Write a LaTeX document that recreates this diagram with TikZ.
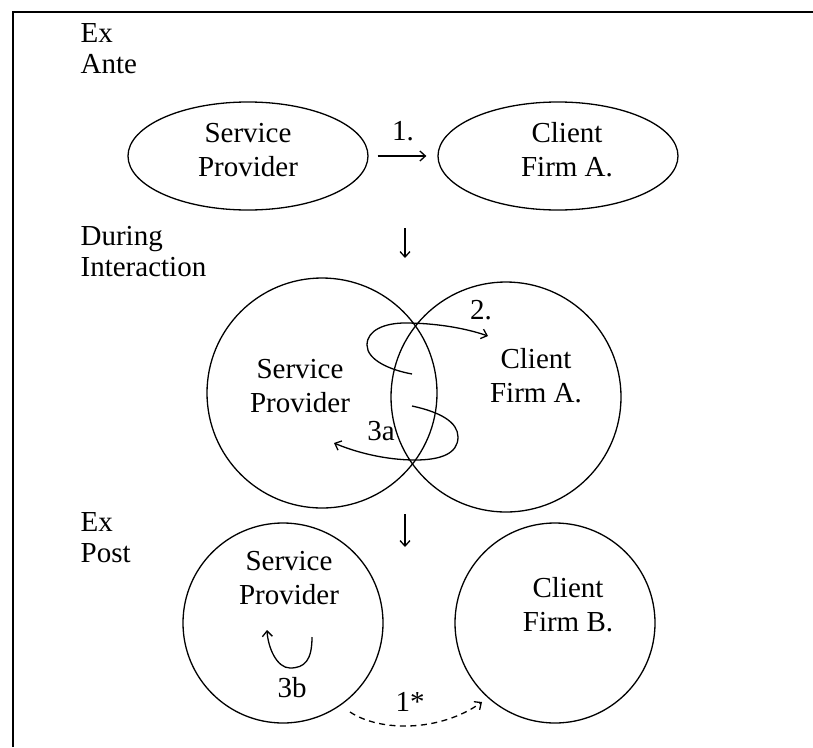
\documentclass[tikz,border=0pt]{standalone}
\usepackage{fontspec}
\setmainfont{Liberation Serif}
\usetikzlibrary{shapes.geometric,arrows.meta}
\begin{document}
\begin{tikzpicture}[x=1pt,y=-1pt,
  line width=1.3pt,
  ovalnode/.style={draw, ellipse, minimum width=240pt, minimum height=108pt, inner sep=0pt},
  ringnode/.style={draw, circle, minimum size=#1, inner sep=0pt},
  txt/.style={align=center, inner sep=0pt, font=\fontsize{29}{34}\selectfont},
  lbl/.style={align=left, anchor=north west, inner sep=0pt, font=\fontsize{29}{31}\selectfont},
  tag/.style={inner sep=0pt, font=\fontsize{29}{34}\selectfont},
  arr/.style={-{Straight Barb[length=5.5pt,width=10pt]}, line width=1.3pt},
]
\useasboundingbox (0,0) rectangle (813,747);

% frame edges
\draw[line width=1.8pt] (13,747) -- (13,12) -- (813,12);

% phase labels
\node[lbl] (exante) at (80,23) {Ex\\Ante};
\node[lbl] (during) at (80,226) {During\\Interaction};
\node[lbl] (expost) at (80,512) {Ex\\Post};

% ex ante
\node[ovalnode] (sp1) at (248,156) {};
\node[ovalnode] (cf1) at (558,156) {};
\node[txt] (tsp1) at (248,150) {Service\\Provider};
\node[txt] (tcf1) at (567,150) {Client\\Firm A.};
\draw[arr, shorten <=9pt, shorten >=11pt] (sp1.east) -- (cf1.west)
  node[tag, midway, above=14pt] (t1) {1.};

% during interaction
\node[ringnode=230pt] (sp2) at (322,393) {};
\node[ringnode=230pt] (cf2) at (506,397) {};
\node[txt] (tsp2) at (300,386) {Service\\Provider};
\node[txt] (tcf2) at (536,376) {Client\\Firm A.};

\coordinate (d1s) at (405,228);
\coordinate (d1e) at (405,258);
\draw[arr] (d1s) -- (d1e);

\coordinate (a2s) at (412,374);
\coordinate (a2e) at (488,336);
\draw[arr] (a2s) .. controls (390,370) and (367,360) .. (367,345)
  .. controls (367,330) and (385,323) .. (405,323)
  .. controls (435,323) and (465,328) .. (a2e);
\node[tag] (t2) at (481,310) {2.};

\coordinate (a3s) at (412,406);
\coordinate (a3e) at (334,443);
\draw[arr] (a3s) .. controls (440,412) and (458,422) .. (458,437)
  .. controls (458,454) and (440,460) .. (415,460)
  .. controls (385,460) and (355,452) .. (a3e);
\node[tag] (t3a) at (381,431) {3a};

% ex post
\node[ringnode=200pt] (sp3) at (283,623) {};
\node[ringnode=200pt] (cf3) at (555,623) {};
\node[txt] (tsp3) at (289,578) {Service\\Provider};
\node[txt] (tcf3) at (568,605) {Client\\Firm B.};

\coordinate (d2s) at (405,514);
\coordinate (d2e) at (405,547);
\draw[arr] (d2s) -- (d2e);

\coordinate (b3s) at (312,637);
\coordinate (b3e) at (267,630);
\draw[arr] (b3s) .. controls (312,660) and (305,668) .. (290,668)
  .. controls (277,668) and (268,648) .. (b3e);
\node[tag] (t3b) at (292,688) {3b};

\coordinate (s1s) at (350,712);
\coordinate (s1e) at (482,702);
\draw[arr, dash pattern=on 6pt off 4.5pt] (s1s) .. controls (380,732) and (440,732) .. (s1e);
\node[tag] (t1s) at (410,702) {1*};
\end{tikzpicture}
\end{document}
